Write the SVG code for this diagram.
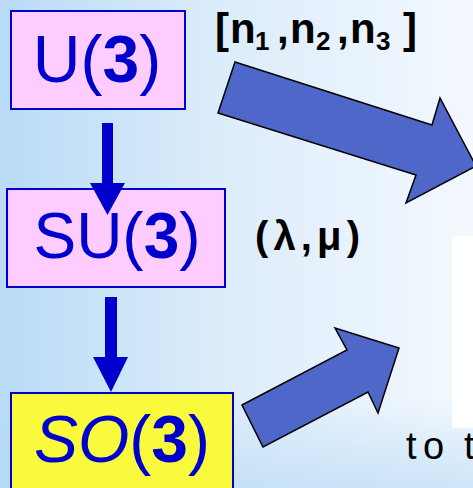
<svg xmlns="http://www.w3.org/2000/svg" width="473" height="488" viewBox="0 0 473 488">
  <defs>
    <linearGradient id="bg" x1="0" y1="0" x2="1" y2="0">
      <stop offset="0" stop-color="#b9dbf6"/>
      <stop offset="0.45" stop-color="#dbecfa"/>
      <stop offset="1" stop-color="#f3f8fe"/>
    </linearGradient>
    <linearGradient id="bgb" x1="0" y1="0" x2="0" y2="1">
      <stop offset="0" stop-color="#b5d8f4" stop-opacity="0"/>
      <stop offset="1" stop-color="#b5d8f4" stop-opacity="0.6"/>
    </linearGradient>
    <style>
      .box { stroke: #0000cc; stroke-width: 2; }
      .pink { fill: #ffccff; }
      .yellow { fill: #fafa3c; }
      .name { font-family: "Liberation Sans", Arial, sans-serif; fill: #0000cc; text-anchor: middle; }
      .b { font-weight: bold; }
      .lbl { font-family: "Liberation Sans", Arial, sans-serif; fill: #000; font-weight: bold; }
      .small { fill: #0000cc; }
      .big { fill: #4f67c8; stroke: #000; stroke-width: 1.5; stroke-linejoin: miter; }
    </style>
  </defs>

  <rect width="473" height="488" fill="url(#bg)"/>
  <rect x="0" y="400" width="473" height="88" fill="url(#bgb)"/>
  <rect x="452" y="236" width="21" height="192" fill="#ffffff"/>

  <g id="node-u3">
    <rect class="box pink" x="11" y="11" width="174" height="98"/>
    <text class="name" x="97" y="82" font-size="66">U(<tspan class="b">3</tspan>)</text>
  </g>

  <g id="node-su3">
    <rect class="box pink" x="7" y="189" width="218" height="98"/>
    <text class="name" x="117" y="258" font-size="64">SU(<tspan class="b">3</tspan>)</text>
  </g>

  <g id="node-so3">
    <rect class="box yellow" x="11" y="393" width="222" height="110"/>
    <text class="name" x="122" y="462" font-size="66"><tspan font-style="italic">SO</tspan>(<tspan class="b">3</tspan>)</text>
  </g>

  <g id="connectors">
    <polygon class="small" points="102,123 113,123 113,183 125,183 107.5,215 90,183 102,183"/>
    <polygon class="small" points="105,297 117,297 117,357 128,357 111,392 93,357 105,357"/>
    <polygon class="big" points="235,62 432,125 440,98 476,166 406,203 416,175 218,113"/>
    <polygon class="big" points="242,405 347,350 335,328 399,348 378,413 368,392 263,447"/>
  </g>

  <g id="labels">
    <text class="lbl" font-size="42" y="43">
      <tspan x="215">[</tspan><tspan x="230">n</tspan><tspan x="277">,</tspan><tspan x="290">n</tspan><tspan x="337">,</tspan><tspan x="350">n</tspan><tspan x="403">]</tspan>
    </text>
    <text class="lbl" font-size="26" y="50">
      <tspan x="255">1</tspan><tspan x="316">2</tspan><tspan x="376">3</tspan>
    </text>
    <text class="lbl" font-size="40" x="255" y="250" textLength="105" lengthAdjust="spacing">(λ,μ)</text>
    <text font-family="Liberation Sans, Arial, sans-serif" font-size="38" fill="#000" y="459"><tspan x="406">t</tspan><tspan x="423">o</tspan><tspan x="464">t</tspan></text>
  </g>
</svg>
